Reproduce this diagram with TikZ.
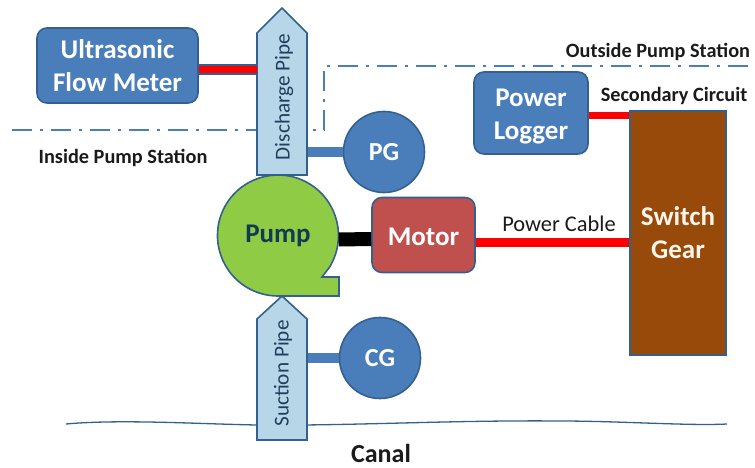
\documentclass[tikz,border=0pt]{standalone}
\usepackage{fontspec}
\setmainfont{Carlito}
\definecolor{bluefill}{HTML}{4A7EBB}
\definecolor{blueedge}{HTML}{34608F}
\definecolor{pipefill}{HTML}{B7D7E8}
\definecolor{pumpfill}{HTML}{8FCB45}
\definecolor{motorfill}{HTML}{C0504D}
\definecolor{gearfill}{HTML}{984A0A}
\definecolor{inktext}{HTML}{1A1A1A}
\definecolor{darkpump}{HTML}{123A52}
\definecolor{pipetext}{HTML}{1F3F5F}
\tikzset{
  px/.style={x=1pt,y=-1pt},
  edgeline/.style={draw=blueedge,line width=1.6pt},
  bluebox/.style={edgeline,fill=bluefill,rounded corners=10pt,text=white,font=\fontsize{27}{33}\selectfont\bfseries,align=center,inner sep=0pt},
  gauge/.style={edgeline,fill=bluefill,circle,text=white,font=\fontsize{26}{30}\selectfont\bfseries,inner sep=0pt,minimum size=81pt},
  pipeshape/.style={edgeline,fill=pipefill,line join=miter},
  pipelabel/.style={rotate=90,text=pipetext,font=\fontsize{21.2}{24}\selectfont,inner sep=0pt},
  plainlabel/.style={text=inktext,font=\fontsize{20.3}{24}\selectfont\bfseries,inner sep=0pt},
  bound/.style={draw=bluefill,line width=1.7pt,dash pattern=on 20pt off 8pt on 3pt off 8pt},
  redcable/.style={draw=red,line width=9pt},
  stub/.style={draw=bluefill,line width=10pt},
}
\begin{document}
\begin{tikzpicture}[px]
\useasboundingbox (0,0) rectangle (755,468);
% canal line
\coordinate (canalL) at (66,424);
\coordinate (canalR) at (727,424);
\draw[blueedge,line width=1.3pt] (canalL) .. controls (120,419) and (200,424) .. (257,425)
  .. controls (350,426) and (450,420) .. (560,421) .. controls (620,421) and (690,426) .. (canalR);
% boundary lines
\coordinate (bA) at (12,130);
\coordinate (bB) at (324,130);
\coordinate (bC) at (324,66);
\coordinate (bD) at (755,66);
\draw[bound] (bA) -- (bB) -- (bC) -- (bD);
% nodes
\node[bluebox,minimum width=161pt,minimum height=75pt] (flow) at (117.5,65.5) {Ultrasonic\\Flow Meter};
\node[bluebox,minimum width=114pt,minimum height=82pt] (logger) at (531,113) {\rule{0pt}{25pt}Power\\Logger};
\node[bluebox,fill=motorfill,minimum width=103pt,minimum height=75pt] (motor) at (423.5,235) {\rule{0pt}{21pt}Motor};
\node[bluebox,rectangle,rounded corners=0pt,fill=gearfill,text=white!92!orange,minimum width=96pt,minimum height=244pt] (gear) at (678,233) {Switch\\Gear};
\node[gauge] (pg) at (384,152) {PG};
\node[gauge] (cg) at (380,358) {CG};
% pipes
\coordinate (dpR) at (307,152);
\coordinate (spR) at (307,358);
\coordinate (dpL) at (257,69.5);
\draw[stub] (dpR) -- (pg.west);
\draw[stub] (spR) -- (cg.west);
\draw[pipeshape] (257,175) -- (257,33) -- (282,8) -- (307,33) -- (307,175) -- cycle;
\draw[pipeshape] (257,440) -- (257,319) -- (282,296) -- (307,319) -- (307,440) -- cycle;
\node[pipelabel] (dlabel) at (284,97) {Discharge Pipe};
\node[pipelabel] (slabel) at (283,373.5) {Suction Pipe};
% pump
\draw[edgeline,fill=pumpfill,line join=miter] (339,296) -- (339,277) -- (322,277) -- (329.5,267.2)
  arc[start angle=31.6,end angle=-270,radius=60.5] -- cycle;
\node[text=darkpump,font=\fontsize{27}{30}\selectfont\bfseries,inner sep=0pt,minimum width=121pt,minimum height=121pt,circle] (pump) at (278,235.5) {Pump};
% connectors
\draw[draw=blueedge,line width=11pt] ([yshift=-4pt]flow.east) -- ([yshift=-4pt]flow.east -| dpL);
\draw[redcable,line width=7pt] ([yshift=-4pt]flow.east) -- ([yshift=-4pt]flow.east -| dpL);
\draw[draw=black,line width=14pt] ([yshift=-4pt]pump.east) -- ([yshift=-4pt]motor.west);
\draw[redcable] ([yshift=-7pt]motor.east) -- ([yshift=-7pt]motor.east -| gear.west);
\coordinate (secR) at (gear.north west);
\draw[redcable,line width=7.5pt] (logger.east |- 0,115.5) -- (secR |- 0,115.5);
% labels
\node[plainlabel] (outside) at (658,52) {Outside Pump Station};
\node[plainlabel] (inside) at (123,158) {Inside Pump Station};
\node[plainlabel] (secondary) at (674,96) {Secondary Circuit};
\node[plainlabel,font=\fontsize{22.4}{26}\selectfont] (cable) at (559,224) {Power Cable};
\node[plainlabel,font=\fontsize{26}{28}\selectfont\bfseries] (canal) at (381,453) {Canal};
\end{tikzpicture}
\end{document}
